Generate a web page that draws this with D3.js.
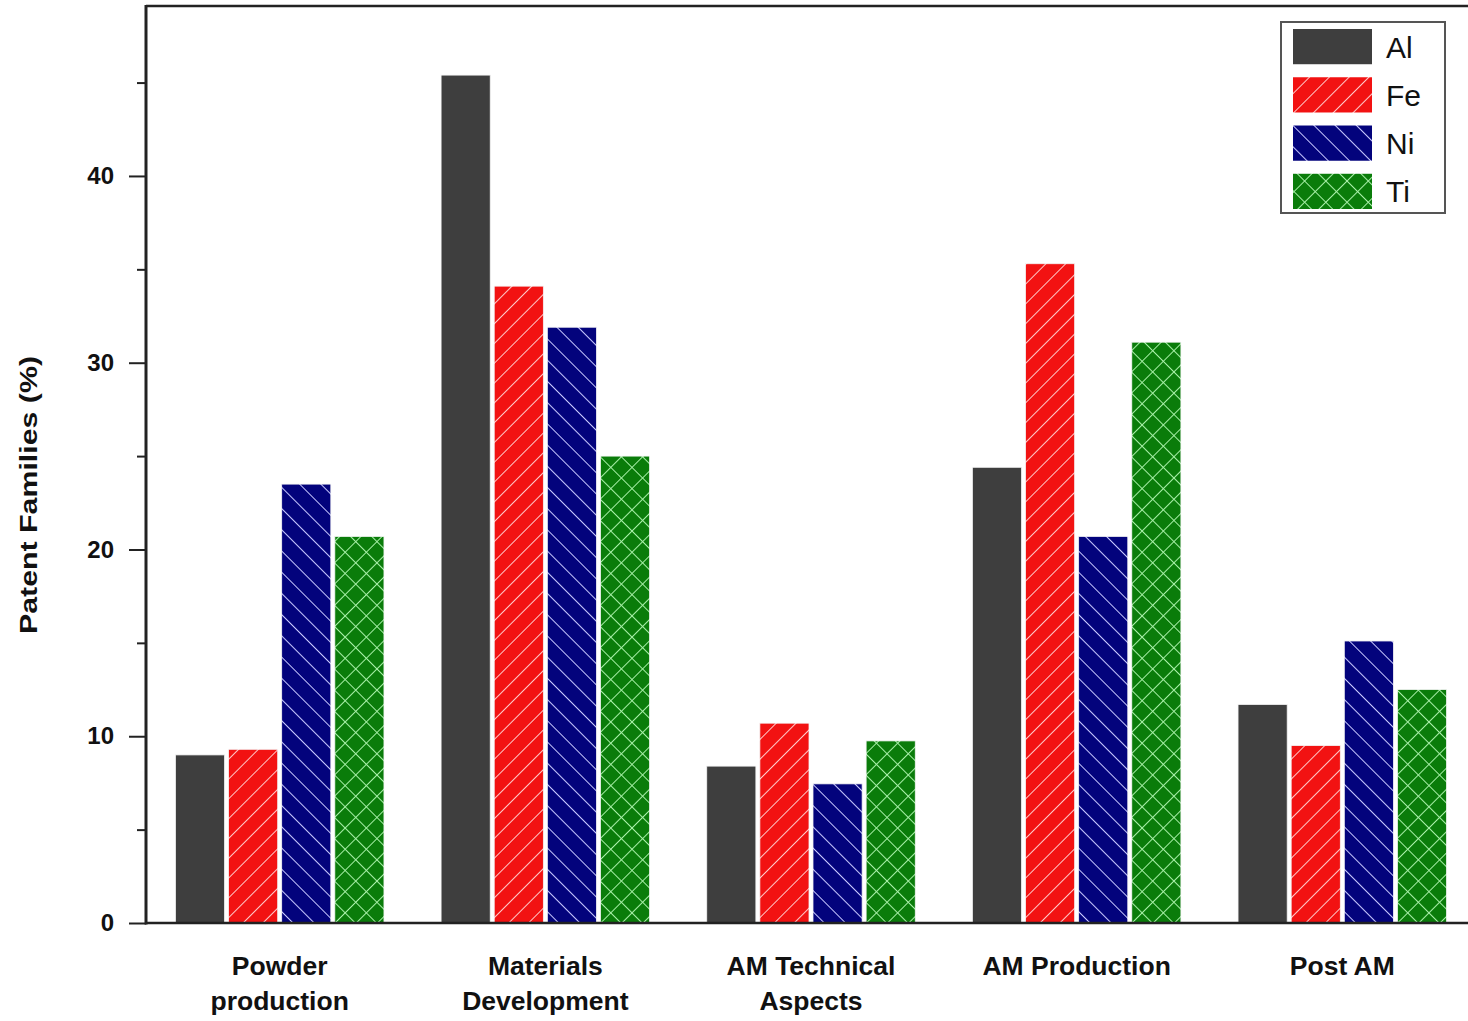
<!DOCTYPE html>
<html>
<head>
<meta charset="utf-8">
<script src="https://cdn.jsdelivr.net/npm/d3@7/dist/d3.min.js"></script>
<style>
  html, body { margin: 0; padding: 0; background: #fff; }
  svg { display: block; font-family: "Liberation Sans", Arial, sans-serif; }
</style>
</head>
<body>
<svg id="chart" width="1468" height="1021"></svg>
<script>
// ---- data ----
const categories = [["Powder", "production"], ["Materials", "Development"], ["AM Technical", "Aspects"], ["AM Production"], ["Post AM"]];
const seriesNames = ["Al", "Fe", "Ni", "Ti"];
const alValues = [9.0, 45.4, 8.4, 24.4, 11.7];
const feValues = [9.3, 34.1, 10.7, 35.3, 9.5];
const niValues = [23.5, 31.9, 7.45, 20.7, 15.1];
const tiValues = [20.7, 25.0, 9.75, 31.1, 12.5];
const yMajorTicks = [0, 10, 20, 30, 40];
const yMinorTicks = [5, 15, 25, 35, 45];
const yAxisTitle = "Patent Families (%)";

const seriesValues = [alValues, feValues, niValues, tiValues];

// ---- layout ----
const svg = d3.select("#chart");
const plotLeft = 146, plotTop = 6, plotBottom = 923, plotRight = 1470;

const y = d3.scaleLinear().domain([0, 49.1]).range([plotBottom, plotTop]);
const x0 = d3.scaleBand().domain(d3.range(categories.length))
  .range([147, 1475]).paddingInner(0.215).paddingOuter(0.107);
const x1 = d3.scaleBand().domain(seriesNames).range([0, x0.bandwidth()]).paddingInner(0.075);

// ---- patterns ----
const defs = svg.append("defs");
function hatch(id, bg, lineColor, spacing, angles) {
  const p = defs.append("pattern").attr("id", id)
    .attr("patternUnits", "userSpaceOnUse")
    .attr("width", spacing).attr("height", spacing)
    .attr("patternTransform", `rotate(${angles[0]})`);
  p.append("rect").attr("width", spacing).attr("height", spacing).attr("fill", bg);
  p.append("line").attr("x1", 0).attr("y1", 0).attr("x2", 0).attr("y2", spacing)
    .attr("stroke", lineColor).attr("stroke-width", 2);
  if (angles.length > 1) {
    p.append("line").attr("x1", 0).attr("y1", 0).attr("x2", spacing).attr("y2", 0)
      .attr("stroke", lineColor).attr("stroke-width", 2);
  }
}
hatch("patFe", "#f21212", "#ffc8c8", 14, [45]);
hatch("patNi", "#03037c", "#c8c8ff", 15, [-45]);
hatch("patTi", "#0a7c0a", "#a8f0a8", 15, [45, -45]);

const fills = { Al: "#3e3e3e", Fe: "url(#patFe)", Ni: "url(#patNi)", Ti: "url(#patTi)" };

// ---- bars ----
const groups = svg.append("g").selectAll("g")
  .data(categories.map((c, i) => i))
  .join("g")
  .attr("transform", i => `translate(${x0(i)},0)`);

groups.selectAll("rect")
  .data(i => seriesNames.map((s, k) => ({ s, v: seriesValues[k][i] })))
  .join("rect")
  .attr("x", d => x1(d.s))
  .attr("y", d => y(d.v))
  .attr("width", x1.bandwidth())
  .attr("height", d => y(0) - y(d.v))
  .attr("fill", d => fills[d.s])
  .attr("stroke", "#f4f4f4")
  .attr("stroke-width", 0.8);

// ---- frame ----
svg.append("line").attr("x1", plotLeft).attr("x2", plotRight).attr("y1", plotTop).attr("y2", plotTop)
  .attr("stroke", "#222").attr("stroke-width", 2.5);

// ---- y axis ----
const yAxis = d3.axisLeft(y).tickValues(yMajorTicks).tickSize(17).tickPadding(15).tickSizeOuter(0);
const gy = svg.append("g").attr("transform", `translate(${plotLeft},0)`).call(yAxis);
gy.select(".domain").remove();
gy.selectAll(".tick line").attr("stroke", "#222").attr("stroke-width", 2);
gy.selectAll(".tick text").attr("fill", "#111").attr("font-size", 24).attr("font-weight", "bold")
  .attr("font-family", "'Liberation Sans', Arial, sans-serif");
const yMinor = d3.axisLeft(y).tickValues(yMinorTicks).tickSize(9).tickFormat("");
const gym = svg.append("g").attr("transform", `translate(${plotLeft},0)`).call(yMinor);
gym.select(".domain").remove();
gym.selectAll(".tick line").attr("stroke", "#222").attr("stroke-width", 2);

svg.append("line").attr("x1", plotLeft).attr("x2", plotLeft).attr("y1", plotTop - 1).attr("y2", plotBottom + 1.5)
  .attr("stroke", "#222").attr("stroke-width", 3);

// ---- x axis ----
const xAxis = d3.axisBottom(x0).tickSize(0).tickFormat("");
const gx = svg.append("g").attr("transform", `translate(0,${plotBottom})`).call(xAxis);
gx.select(".domain").remove();
svg.append("line").attr("x1", plotLeft - 1).attr("x2", plotRight).attr("y1", plotBottom).attr("y2", plotBottom)
  .attr("stroke", "#222").attr("stroke-width", 2.5);

const labelG = svg.append("g");
categories.forEach((lines, i) => {
  const cx = x0(i) + x0.bandwidth() / 2;
  const t = labelG.append("text").attr("text-anchor", "middle")
    .attr("font-size", 26.5).attr("font-weight", "bold").attr("fill", "#111");
  lines.forEach((ln, j) => {
    t.append("tspan").attr("x", cx).attr("y", 975 + j * 35).text(ln);
  });
});

// ---- y title ----
svg.append("text")
  .attr("transform", `translate(37,495) rotate(-90)`)
  .attr("text-anchor", "middle")
  .attr("font-size", 24).attr("font-weight", "bold").attr("fill", "#111")
  .attr("textLength", 278).attr("lengthAdjust", "spacingAndGlyphs")
  .text(yAxisTitle);

// ---- legend ----
const legend = svg.append("g");
legend.append("rect").attr("x", 1281).attr("y", 22).attr("width", 164).attr("height", 191)
  .attr("fill", "#fff").attr("stroke", "#555").attr("stroke-width", 2);
const legScale = d3.scaleBand().domain(seriesNames).range([29, 209]).paddingInner(0.27);
seriesNames.forEach(s => {
  legend.append("rect").attr("x", 1293).attr("y", legScale(s)).attr("width", 79).attr("height", legScale.bandwidth())
    .attr("fill", fills[s]);
  legend.append("text").attr("x", 1386).attr("y", legScale(s) + legScale.bandwidth() / 2 + 11)
    .attr("font-size", 30).attr("fill", "#111").text(s);
});
</script>
</body>
</html>
